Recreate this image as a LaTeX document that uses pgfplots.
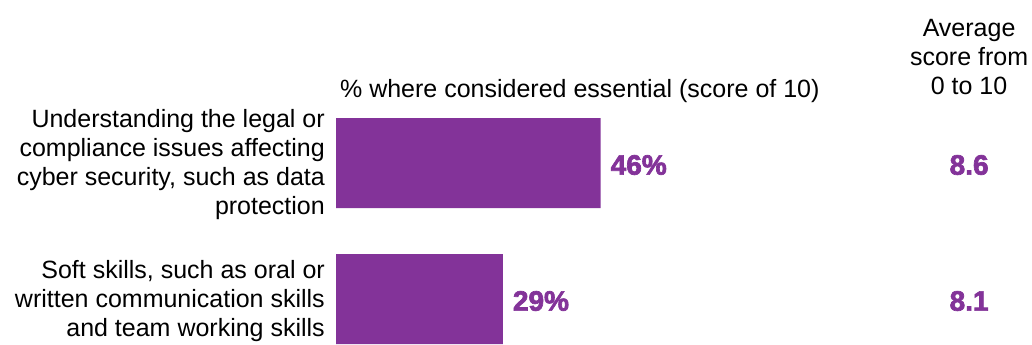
\documentclass[border=0pt]{standalone}
\usepackage{fontspec}
\setmainfont{Liberation Sans}
\newfontfamily\heavyfont{Liberation Sans}[BoldFeatures={FakeBold=2.5}]
\usepackage{pgfplots}
\pgfplotsset{compat=1.18}
\definecolor{barpurple}{RGB}{131,51,153}
\begin{document}
\begin{tikzpicture}
\path[use as bounding box] (0bp,0bp) rectangle (1032bp,345bp);
\begin{axis}[
  at={(336bp,0bp)}, anchor=south west,
  scale only axis, width=696bp, height=345bp,
  xmin=0, xmax=121.04, ymin=0, ymax=345, y dir=reverse,
  hide axis, clip=false,
  /pgf/number format/assume math mode=true,
]
\addplot[xbar, bar width=90, fill=barpurple, draw=none,
  point meta=x,
  nodes near coords={\pgfmathprintnumber{\pgfplotspointmeta}\%},
  every node near coord/.style={anchor=west, inner sep=0pt, xshift=10bp, yshift=-2bp,
    font=\heavyfont\bfseries\fontsize{28bp}{28bp}\selectfont, text=barpurple}]
  coordinates {(46,163) (29,299)};
\addplot[draw=none, mark=none, point meta=explicit,
  nodes near coords={\pgfmathprintnumber[fixed, fixed zerofill, precision=1]{\pgfplotspointmeta}},
  every node near coord/.style={anchor=center, inner sep=0pt,
    font=\heavyfont\bfseries\fontsize{28bp}{28bp}\selectfont, text=barpurple}]
  coordinates {(110.1,165)[8.6] (110.1,301)[8.1]};
\node[anchor=east, align=right, inner sep=0pt, xshift=-11bp,
  font=\fontsize{25bp}{29bp}\selectfont] at (axis cs:0,165)
  {Understanding the legal or\\compliance issues affecting\\cyber security, such as data\\protection};
\node[anchor=east, align=right, inner sep=0pt, xshift=-11bp,
  font=\fontsize{25bp}{29bp}\selectfont] at (axis cs:0,301)
  {Soft skills, such as oral or\\written communication skills\\and team working skills};
\node[anchor=base, inner sep=0pt, font=\fontsize{25bp}{29bp}\selectfont]
  at (axis cs:42.4,97) {\% where considered essential (score of 10)};
\node[anchor=north, align=center, inner sep=0pt, font=\fontsize{25bp}{29bp}\selectfont]
  at (axis cs:110.1,19) {Average\\score from\\0 to 10};
\end{axis}
\end{tikzpicture}
\end{document}
